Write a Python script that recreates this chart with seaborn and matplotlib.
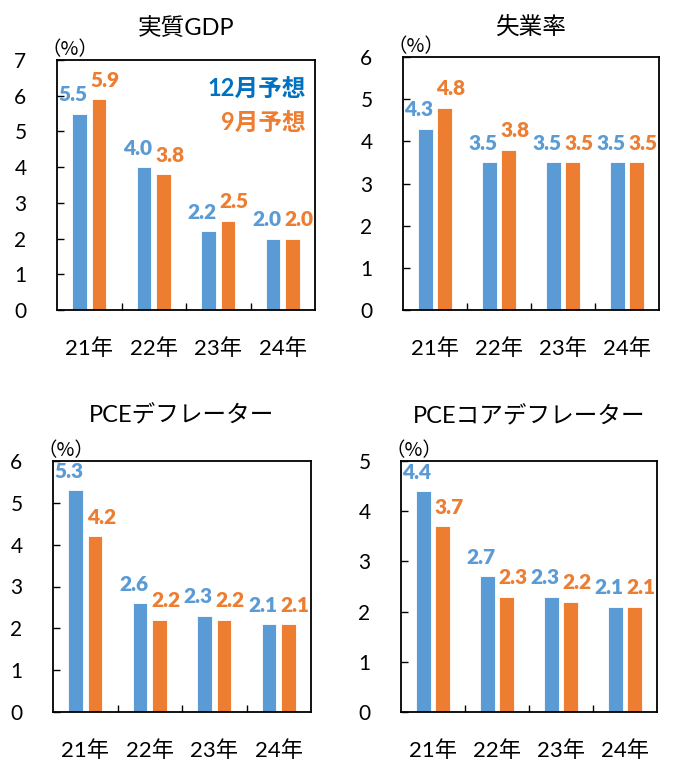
import matplotlib
matplotlib.use("Agg")
import matplotlib.pyplot as plt
from matplotlib.ticker import FixedLocator, MultipleLocator
import pandas as pd
import seaborn as sns

# ---- data ----
years = ["21年", "22年", "23年", "24年"]
series_names = ["12月予想", "9月予想"]

titles = ["実質GDP", "失業率", "PCEデフレーター", "PCEコアデフレーター"]

gdp_dec = [5.5, 4.0, 2.2, 2.0]
gdp_sep = [5.9, 3.8, 2.5, 2.0]

unemp_dec = [4.3, 3.5, 3.5, 3.5]
unemp_sep = [4.8, 3.8, 3.5, 3.5]

pce_dec = [5.3, 2.6, 2.3, 2.1]
pce_sep = [4.2, 2.2, 2.2, 2.1]

core_dec = [4.4, 2.7, 2.3, 2.1]
core_sep = [3.7, 2.3, 2.2, 2.1]

y_max = [7, 6, 6, 5]

panels = [
    (gdp_dec, gdp_sep),
    (unemp_dec, unemp_sep),
    (pce_dec, pce_sep),
    (core_dec, core_sep),
]

# ---- style ----
BLUE = "#5B9BD5"
ORANGE = "#ED7D31"
LEGEND_BLUE = "#0070C0"

sns.set_theme(style="white")
FAMILY = ["Lato", "Noto Sans CJK JP", "DejaVu Sans"]
plt.rcParams["font.family"] = FAMILY
plt.rcParams["axes.edgecolor"] = "black"
plt.rcParams["axes.linewidth"] = 1.3

W, H = 673, 761
fig = plt.figure(figsize=(W / 100, H / 100), dpi=100)
fig.patch.set_facecolor("white")

# axes rectangles in pixels: left, top, right, bottom
rects = [
    (57, 60, 315, 310),
    (403, 57, 659, 310),
    (53, 461, 311, 712),
    (401, 461, 657, 712),
]
title_pads = [18, 16, 28, 27]


def make_axes(left, top, right, bottom):
    return fig.add_axes([left / W, (H - bottom) / H, (right - left) / W, (bottom - top) / H])


LABEL_SHIFT = 4.6  # points: blue labels nudged left, orange labels nudged right

for i, ((dec, sep), (l, t, r, b)) in enumerate(zip(panels, rects)):
    ax = make_axes(l, t, r, b)
    df = pd.DataFrame({
        "year": years * 2,
        "series": [series_names[0]] * 4 + [series_names[1]] * 4,
        "value": dec + sep,
    })
    sns.barplot(data=df, x="year", y="value", hue="series",
                palette=[BLUE, ORANGE], saturation=1, width=0.6, gap=0.25,
                order=years, hue_order=series_names,
                edgecolor="white", linewidth=0.6,
                legend=False, ax=ax)

    ax.set_ylim(0, y_max[i])
    ax.set_xlim(-0.5, 3.5)
    ax.yaxis.set_major_locator(MultipleLocator(1))
    ax.set_xlabel("")
    ax.set_ylabel("")
    for s in ax.spines.values():
        s.set_visible(True)
        s.set_color("black")
        s.set_linewidth(1.3)

    ax.tick_params(axis="y", direction="in", length=5, width=1, left=True,
                   pad=22, labelsize=15, colors="black")
    ax.tick_params(axis="x", which="major", length=0, pad=20, labelsize=16,
                   colors="black")
    ax.xaxis.set_minor_locator(FixedLocator([0.5, 1.5, 2.5]))
    ax.tick_params(axis="x", which="minor", direction="in", length=5, width=1,
                   bottom=True, color="black")

    ax.set_title(titles[i], fontsize=17, pad=title_pads[i], color="black",
                 family=FAMILY)

    # unit label
    ax.annotate("（%）", xy=(0, 1), xycoords="axes fraction",
                xytext=(-11, 0), textcoords="offset points",
                ha="left", va="bottom", fontsize=14,
                family=["Noto Sans CJK JP", "DejaVu Sans"], color="black")

    # value labels
    blue_bars, orange_bars = ax.containers[0], ax.containers[1]
    for bar, v in zip(blue_bars, dec):
        ax.annotate(f"{v:.1f}", xy=(bar.get_x() + bar.get_width() / 2, v),
                    xytext=(-LABEL_SHIFT, 9), textcoords="offset points",
                    ha="center", va="baseline", fontsize=15,
                    fontweight="heavy", color=BLUE)
    for bar, v in zip(orange_bars, sep):
        ax.annotate(f"{v:.1f}", xy=(bar.get_x() + bar.get_width() / 2, v),
                    xytext=(LABEL_SHIFT, 9), textcoords="offset points",
                    ha="center", va="baseline", fontsize=15,
                    fontweight="heavy", color=ORANGE)

    if i == 0:
        ax.text(0.965, 0.888, series_names[0], transform=ax.transAxes,
                ha="right", va="center", fontsize=17, fontweight="bold",
                color=LEGEND_BLUE)
        ax.text(0.965, 0.752, series_names[1], transform=ax.transAxes,
                ha="right", va="center", fontsize=17, fontweight="bold",
                color=ORANGE)

fig.savefig("out.png", dpi=100, facecolor="white")
